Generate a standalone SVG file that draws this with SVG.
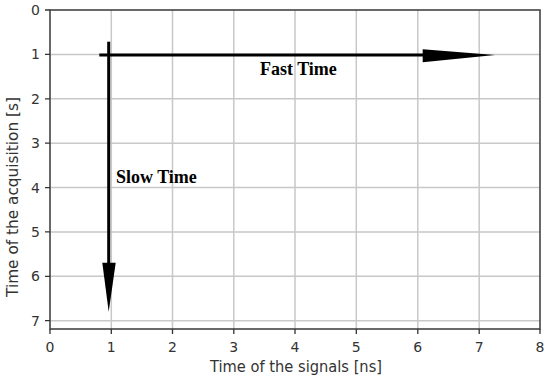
<svg xmlns="http://www.w3.org/2000/svg" width="550" height="381" viewBox="0 0 550 381">
<style>
.grid{stroke:#c8c8c8;stroke-width:1.5;fill:none}
.frame{stroke:#444;stroke-width:1.6;fill:none}
.tick{stroke:#333;stroke-width:1.3}
.lbl{font-family:"DejaVu Sans",Verdana,sans-serif;font-size:14px;fill:#333}
.title{font-family:"DejaVu Sans",Verdana,sans-serif;font-size:15px;fill:#333}
.arrow{stroke:#000;stroke-width:3;fill:none}
.head{fill:#000}
.ann{font-family:"Liberation Serif","Times New Roman",serif;font-weight:bold;font-size:18px;fill:#000}
</style>
<rect width="550" height="381" fill="#fff"/>
<g id="grid">
<path class="grid" d="M111.3 10V329M172.5 10V329M233.8 10V329M295 10V329M356.3 10V329M417.8 10V329M479.2 10V329"/>
<path class="grid" d="M50 54.4H540M50 98.8H540M50 143.2H540M50 187.6H540M50 231.9H540M50 276.3H540M50 320.7H540"/>
</g>
<g id="axes">
<rect class="frame" x="50" y="10" width="490" height="319"/>
<path class="tick" d="M50 329V334M111.3 329V334M172.5 329V334M233.8 329V334M295 329V334M356.3 329V334M417.8 329V334M479.2 329V334M540 329V334"/>
<path class="tick" d="M45 10H50M45 54.4H50M45 98.8H50M45 143.2H50M45 187.6H50M45 231.9H50M45 276.3H50M45 320.7H50"/>
</g>
<g id="xlabels" class="lbl" text-anchor="middle">
<text x="50" y="352">0</text>
<text x="111.3" y="352">1</text>
<text x="172.5" y="352">2</text>
<text x="233.8" y="352">3</text>
<text x="295" y="352">4</text>
<text x="356.3" y="352">5</text>
<text x="417.8" y="352">6</text>
<text x="479.2" y="352">7</text>
<text x="540" y="352">8</text>
</g>
<g id="ylabels" class="lbl" text-anchor="end">
<text x="40" y="15">0</text>
<text x="40" y="59.4">1</text>
<text x="40" y="103.8">2</text>
<text x="40" y="148.2">3</text>
<text x="40" y="192.6">4</text>
<text x="40" y="236.9">5</text>
<text x="40" y="281.3">6</text>
<text x="40" y="325.7">7</text>
</g>
<g id="titles">
<text class="title" x="296" y="372" text-anchor="middle" textLength="172" lengthAdjust="spacingAndGlyphs">Time of the signals [ns]</text>
<text class="title" transform="translate(18,197) rotate(-90)" text-anchor="middle" textLength="200" lengthAdjust="spacingAndGlyphs">Time of the acquisition [s]</text>
</g>
<g id="connectors">
<path class="arrow" d="M99.3 55H424"/>
<polygon class="head" points="422.7,49.3 495,55 422.7,62.3"/>
<path class="arrow" d="M108.7 41.7V264"/>
<polygon class="head" points="102.3,262.7 115.7,262.7 108.7,311.7"/>
</g>
<g id="fast-time"><text class="ann" x="260" y="75">Fast Time</text></g>
<g id="slow-time"><text class="ann" x="116" y="183">Slow Time</text></g>
</svg>
